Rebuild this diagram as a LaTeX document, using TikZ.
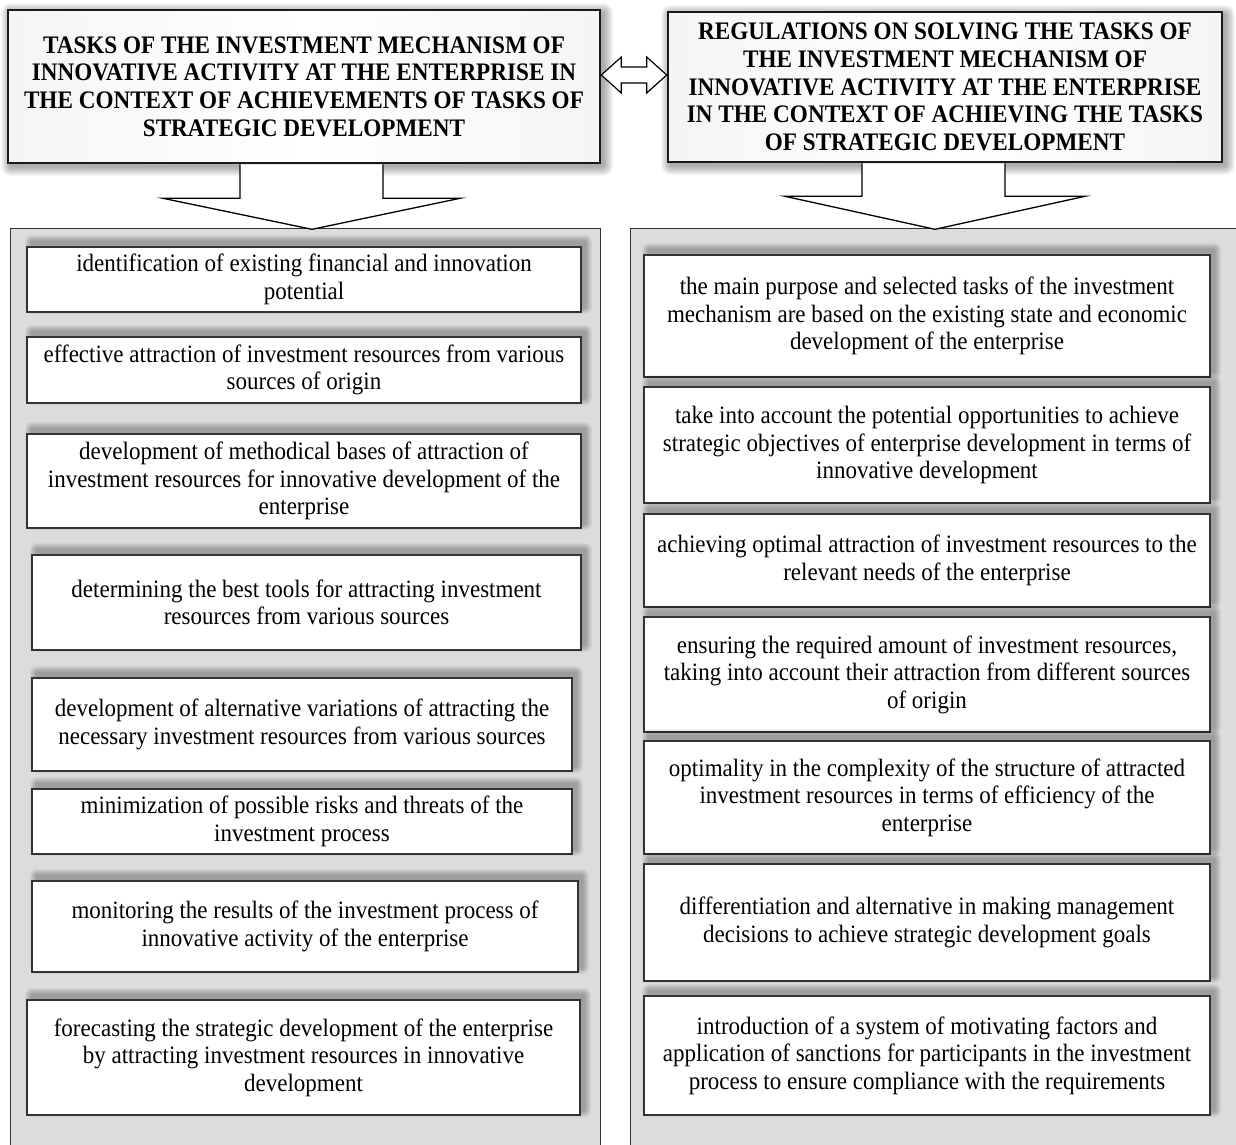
\documentclass[tikz,border=0pt]{standalone}
\usepackage{fontspec}
\setmainfont{Liberation Serif}
\newfontfamily\tallserif{Liberation Serif}[FakeStretch=0.92]
\usetikzlibrary{calc}
\definecolor{panelgray}{RGB}{220,220,220}
\tikzset{
  itembox/.style={draw=black!80, line width=1.1pt, fill=white, inner sep=0pt, align=center,
    font=\tallserif\fontsize{25}{27.5}\selectfont},
  headbox/.style={draw=black!90, line width=2.6pt, inner sep=0pt, align=center,
    left color=black!4, right color=black!4, middle color=white,
    font=\tallserif\fontsize{25.2}{27.7}\selectfont\bfseries},
  panel/.style={fill=panelgray, draw=black!80, line width=1pt},
  blockarrow/.style={draw=black, line width=1.3pt, fill=white, line join=miter}
}
\newcommand\ibox[6]{%
  \foreach \r in {1,...,7}{\fill[black,opacity=0.045,rounded corners=\r pt] (#2+5-\r,#3-5-\r) rectangle (#4+4+\r,#5-5+\r);}
  \node[itembox, minimum width={#4-#2}, minimum height={#5-#3}] (#1) at ({(#2+#4)/2},{(#3+#5)/2}) {#6};
}
\begin{document}
\begin{tikzpicture}[x=1pt,y=-1pt]
\useasboundingbox (0,0) rectangle (1236,1144);
\clip (0,0) rectangle (1236,1144);
\fill[white] (0,0) rectangle (1236,1144);

% panels
\node[panel, minimum width=590, minimum height=930, inner sep=0pt] (p1) at (305,693) {};
\node[panel, minimum width=609, minimum height=930, inner sep=0pt] (p2) at (934.5,693) {};

% header shadows
\foreach \r in {1,...,10}{\fill[black,opacity=0.035,rounded corners=\r pt] (8+3-\r,10+3-\r) rectangle (600+3+\r,163+3+\r);}
\foreach \r in {1,...,10}{\fill[black,opacity=0.035,rounded corners=\r pt] (668+3-\r,12+3-\r) rectangle (1222+3+\r,162+3+\r);}

% headers
\node[headbox, minimum width=592, minimum height=153] (h1) at (304,86.5)
  {TASKS OF THE INVESTMENT MECHANISM OF\\ INNOVATIVE ACTIVITY AT THE ENTERPRISE IN\\ THE CONTEXT OF ACHIEVEMENTS OF TASKS OF\\ STRATEGIC DEVELOPMENT};
\node[headbox, minimum width=554, minimum height=150] (h2) at (945,87)
  {REGULATIONS ON SOLVING THE TASKS OF\\ THE INVESTMENT MECHANISM OF\\ INNOVATIVE ACTIVITY AT THE ENTERPRISE\\ IN THE CONTEXT OF ACHIEVING THE TASKS\\ OF STRATEGIC DEVELOPMENT};

% double arrow between headers
\coordinate (dl) at ($(h1.east)+(0,-11.5)$);
\coordinate (dr) at (dl -| h2.west);
\draw[blockarrow, line width=1.2pt] (dl) -- ++(20,-18) -- ++(0,10) -- ($(dr)+(-20,-8)$) -- ++(0,-10) -- (dr)
  -- ++(-20,18) -- ++(0,-10) -- ($(dl)+(20,8)$) -- ++(0,10) -- cycle;

% block arrows down
\draw[blockarrow] ($(h1.south)+(-64,0)$) -- ++(0,34) -- ++(-77,0) -- ++(149,31) -- ++(148,-31) -- ++(-77,0) -- ++(0,-34);
\draw[blockarrow] ($(h2.south)+(-83,0)$) -- ++(0,33) -- ++(-77,0) -- ++(150,33) -- ++(150,-33) -- ++(-80,0) -- ++(0,-33);

% left items
\ibox{l1}{27}{247}{581}{312}{identification of existing financial and innovation\\ potential}
\ibox{l2}{27}{337}{581}{403}{effective attraction of investment resources from various\\ sources of origin}
\ibox{l3}{27}{434}{581}{528}{development of methodical bases of attraction of\\ investment resources for innovative development of the\\ enterprise}
\ibox{l4}{32}{555}{581}{650}{determining the best tools for attracting investment\\ resources from various sources}
\ibox{l5}{32}{678}{572}{771}{development of alternative variations of attracting the\\ necessary investment resources from various sources}
\ibox{l6}{32}{789}{572}{854}{minimization of possible risks and threats of the\\ investment process}
\ibox{l7}{32}{881}{578}{972}{monitoring the results of the investment process of\\ innovative activity of the enterprise}
\ibox{l8}{27}{1000}{580}{1115}{forecasting the strategic development of the enterprise\\ by attracting investment resources in innovative\\ development}

% right items
\ibox{r1}{644}{255}{1210}{377}{the main purpose and selected tasks of the investment\\ mechanism are based on the existing state and economic\\ development of the enterprise}
\ibox{r2}{644}{387}{1210}{503}{take into account the potential opportunities to achieve\\ strategic objectives of enterprise development in terms of\\ innovative development}
\ibox{r3}{644}{514}{1210}{607}{achieving optimal attraction of investment resources to the\\ relevant needs of the enterprise}
\ibox{r4}{644}{617}{1210}{732}{ensuring the required amount of investment resources,\\ taking into account their attraction from different sources\\ of origin}
\ibox{r5}{644}{741}{1210}{854}{optimality in the complexity of the structure of attracted\\ investment resources in terms of efficiency of the\\ enterprise}
\ibox{r6}{644}{864}{1210}{981}{differentiation and alternative in making management\\ decisions to achieve strategic development goals}
\ibox{r7}{644}{996}{1210}{1115}{introduction of a system of motivating factors and\\ application of sanctions for participants in the investment\\ process to ensure compliance with the requirements}
\end{tikzpicture}
\end{document}
